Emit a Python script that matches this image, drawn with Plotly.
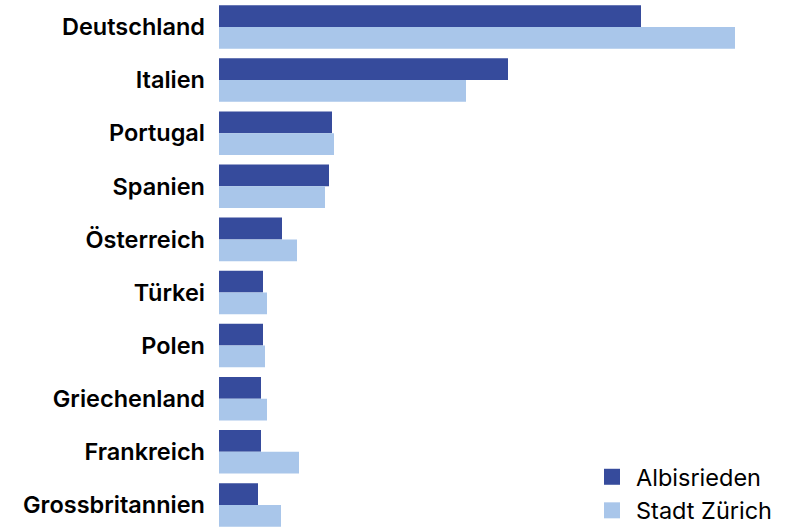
import plotly.graph_objects as go

categories = ["Deutschland", "Italien", "Portugal", "Spanien", "Österreich",
              "Türkei", "Polen", "Griechenland", "Frankreich", "Grossbritannien"]
albisrieden = [21.1, 14.45, 5.65, 5.5, 3.15, 2.2, 2.2, 2.1, 2.1, 1.95]
stadt_zuerich = [25.8, 12.35, 5.75, 5.3, 3.9, 2.4, 2.3, 2.4, 4.0, 3.1]
series_names = ["Albisrieden", "Stadt Zürich"]
series_colors = ["#364B9C", "#A9C6EA"]

fig = go.Figure()
for name, vals, col in zip(series_names, [albisrieden, stadt_zuerich], series_colors):
    fig.add_trace(go.Bar(y=categories, x=vals, orientation="h", name=name,
                         marker=dict(color=col, line=dict(width=0)),
                         showlegend=False, legendgroup=name))
# legend entries with larger square swatches
for name, col in zip(series_names, series_colors):
    fig.add_trace(go.Scatter(x=[None], y=[None], mode="markers", name=name,
                             legendgroup=name,
                             marker=dict(symbol="square", size=17, color=col)))

fig.update_layout(
    width=803, height=527,
    margin=dict(l=219, r=0, t=0, b=0, autoexpand=False),
    paper_bgcolor="white", plot_bgcolor="white",
    barmode="group", bargap=0.18, bargroupgap=0,
    font=dict(family="Inter, Liberation Sans, Arial, sans-serif", color="black"),
    xaxis=dict(range=[0, 29.2], visible=False, showgrid=False, zeroline=False),
    yaxis=dict(range=[9.416, -0.508], showgrid=False, zeroline=False, showline=False,
               automargin=False, ticks="", ticklabelstandoff=13,
               tickfont=dict(size=23.5, weight=600, color="black")),
    legend=dict(x=(588 - 219) / 584, xanchor="left", y=1 - 455 / 527, yanchor="top",
                font=dict(size=23.5, color="black"), bgcolor="rgba(0,0,0,0)",
                tracegroupgap=0, itemwidth=38, traceorder="normal"),
    showlegend=True,
)

fig.write_html("out.html", config={"displayModeBar": False},
               post_script="document.body.style.margin='0';")
